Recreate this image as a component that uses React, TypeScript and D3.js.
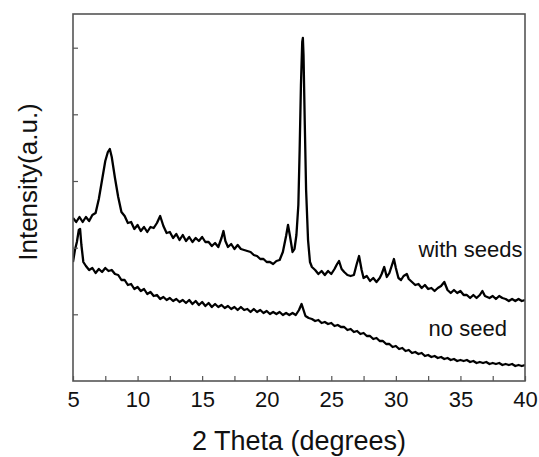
import React, { useEffect, useRef } from 'react';
import * as d3 from 'd3';

// 2 theta (deg), intensity (a.u.)
const withSeeds: [number, number][] = [
  [5.0, 163], [5.25, 159], [5.5, 164], [5.75, 159], [6.0, 164], [6.25, 160], [6.5, 166], [6.75, 168],
  [7.0, 182], [7.25, 201], [7.5, 220], [7.7, 229], [7.85, 232], [8.0, 224], [8.25, 203], [8.5, 184],
  [8.75, 169], [9.0, 165], [9.25, 158], [9.5, 159], [9.75, 152], [10.0, 156], [10.25, 150], [10.5, 154],
  [10.75, 149], [11.0, 154], [11.25, 153], [11.5, 158], [11.75, 165], [12.0, 155], [12.25, 148], [12.5, 149],
  [12.75, 143], [13.0, 147], [13.25, 141], [13.5, 146], [13.75, 140], [14.0, 144], [14.25, 139], [14.5, 143],
  [14.75, 140], [15.0, 144], [15.25, 139], [15.5, 139], [15.75, 135], [16.0, 138], [16.25, 134], [16.5, 143],
  [16.65, 150], [16.8, 140], [17.0, 134], [17.25, 137], [17.5, 132], [17.75, 136], [18.0, 132], [18.25, 131],
  [18.5, 130], [18.75, 129], [19.0, 126], [19.25, 125], [19.5, 122], [19.75, 122], [20.0, 119], [20.25, 119],
  [20.5, 117], [20.75, 120], [21.0, 121], [21.25, 129], [21.5, 145], [21.65, 156], [21.8, 145], [22.0, 129],
  [22.15, 132], [22.3, 146], [22.45, 176], [22.55, 231], [22.65, 296], [22.75, 339], [22.8, 343], [22.85, 326],
  [22.95, 256], [23.05, 191], [23.2, 141], [23.35, 119], [23.5, 114], [23.75, 111], [24.0, 107], [24.25, 110],
  [24.5, 106], [24.75, 110], [25.0, 107], [25.25, 112], [25.45, 117], [25.6, 120], [25.8, 112], [26.0, 109],
  [26.25, 106], [26.5, 105], [26.75, 106], [26.95, 116], [27.15, 125], [27.35, 111], [27.5, 103], [27.75, 105],
  [28.0, 100], [28.25, 103], [28.5, 99], [28.75, 103], [28.9, 107], [29.1, 114], [29.3, 104], [29.5, 108],
  [29.7, 116], [29.85, 122], [30.0, 113], [30.2, 103], [30.4, 101], [30.6, 105], [30.85, 107], [31.0, 102],
  [31.25, 99], [31.5, 96], [31.75, 97], [32.0, 93], [32.25, 96], [32.5, 92], [32.75, 93], [33.0, 90],
  [33.25, 93], [33.5, 95], [33.75, 99], [34.0, 91], [34.25, 88], [34.5, 91], [34.75, 88], [35.0, 90],
  [35.25, 86], [35.5, 86], [35.75, 83], [36.0, 86], [36.25, 83], [36.5, 86], [36.7, 90], [36.9, 85],
  [37.25, 83], [37.5, 85], [37.75, 82], [38.0, 85], [38.25, 83], [38.5, 82], [38.75, 80], [39.0, 82],
  [39.25, 80], [39.5, 82], [39.75, 80], [40.0, 81]
];

const noSeed: [number, number][] = [
  [5.0, 119], [5.15, 131], [5.3, 139], [5.45, 151], [5.55, 152], [5.65, 136], [5.8, 119], [6.0, 115],
  [6.25, 111], [6.5, 113], [6.75, 108], [7.0, 112], [7.25, 109], [7.5, 113], [7.75, 110], [8.0, 111],
  [8.25, 107], [8.5, 106], [8.75, 101], [9.0, 101], [9.25, 96], [9.5, 97], [9.75, 92], [10.0, 94],
  [10.25, 90], [10.5, 92], [10.75, 87], [11.0, 89], [11.25, 85], [11.5, 86], [11.75, 82], [12.0, 84],
  [12.25, 81], [12.5, 83], [12.75, 80], [13.0, 82], [13.25, 79], [13.5, 81], [13.75, 78], [14.0, 81],
  [14.25, 77], [14.5, 80], [14.75, 76], [15.0, 79], [15.25, 75], [15.5, 78], [15.75, 74], [16.0, 77],
  [16.25, 74], [16.5, 76], [16.75, 73], [17.0, 75], [17.25, 72], [17.5, 74], [17.75, 71], [18.0, 74],
  [18.25, 71], [18.5, 72], [18.75, 69], [19.0, 72], [19.25, 69], [19.5, 71], [19.75, 68], [20.0, 70],
  [20.25, 67], [20.5, 69], [20.75, 67], [21.0, 69], [21.25, 66], [21.5, 68], [21.75, 66], [22.0, 68],
  [22.25, 66], [22.5, 71], [22.7, 77], [22.85, 71], [23.0, 65], [23.25, 63], [23.5, 62], [23.75, 60],
  [24.0, 61], [24.25, 58], [24.5, 59], [24.75, 57], [25.0, 58], [25.25, 55], [25.5, 56], [25.75, 54],
  [26.0, 54], [26.25, 51], [26.5, 52], [26.75, 49], [27.0, 50], [27.25, 47], [27.5, 48], [27.75, 45],
  [28.0, 45], [28.25, 42], [28.5, 43], [28.75, 40], [29.0, 40], [29.25, 37], [29.5, 37], [29.75, 34],
  [30.0, 35], [30.25, 32], [30.5, 33], [30.75, 30], [31.0, 31], [31.25, 28], [31.5, 29], [31.75, 27],
  [32.0, 28], [32.25, 25], [32.5, 26], [32.75, 24], [33.0, 25], [33.25, 23], [33.5, 24], [33.75, 22],
  [34.0, 23], [34.25, 21], [34.5, 22], [34.75, 20], [35.0, 21], [35.25, 20], [35.5, 21], [35.75, 19],
  [36.0, 20], [36.25, 18], [36.5, 19], [36.75, 18], [37.0, 19], [37.25, 17], [37.5, 18], [37.75, 17],
  [38.0, 18], [38.25, 16], [38.5, 17], [38.75, 16], [39.0, 17], [39.25, 15], [39.5, 16], [39.75, 15],
  [40.0, 16]
];

const xTickLabels = [5, 10, 15, 20, 25, 30, 35, 40];
const xMinorTicks = [7.5, 12.5, 17.5, 22.5, 27.5, 32.5, 37.5];
const yTicks = [66.7, 133.3, 200, 266.7, 333.3];

const seriesLabels = [
  { text: 'with seeds', x: 39.8, y: 124 },
  { text: 'no seed', x: 38.6, y: 45 }
];

export default function App(): JSX.Element {
  const width = 539;
  const height = 457;
  const margin = { t: 14, r: 14, b: 76, l: 73 };
  const innerW = width - margin.l - margin.r;
  const innerH = height - margin.t - margin.b;

  const axisRef = useRef<SVGGElement>(null);

  const x = d3.scaleLinear().domain([5, 40]).range([0, innerW]);
  const y = d3.scaleLinear().domain([0, 367]).range([innerH, 0]);

  const line = d3
    .line<[number, number]>()
    .x((d) => x(d[0]))
    .y((d) => y(d[1]));

  useEffect(() => {
    document.body.style.margin = '0';
    const g = d3.select(axisRef.current);
    g.selectAll('*').remove();

    // bottom axis: ticks pointing inward
    const bottom = g.append('g').attr('transform', `translate(0,${innerH})`);
    bottom
      .call(
        d3
          .axisBottom(x)
          .tickValues([...xTickLabels, ...xMinorTicks])
          .tickSize(-5)
          .tickPadding(10)
          .tickFormat((d) => (xTickLabels.includes(+d) ? String(d) : ''))
      )
      .call((s) => s.select('.domain').remove());
    bottom
      .selectAll('text')
      .attr('font-family', 'Liberation Sans, Arial, sans-serif')
      .attr('font-size', 22)
      .attr('fill', '#111')
      .attr('dy', '0.71em');
    bottom.selectAll('line').attr('stroke', '#555').attr('stroke-width', 1.2);

    // left axis: no labels
    const left = g.append('g');
    left
      .call(d3.axisLeft(y).tickValues(yTicks).tickSize(-5).tickFormat(() => ''))
      .call((s) => s.select('.domain').remove());
    left.selectAll('line').attr('stroke', '#555').attr('stroke-width', 1.2);
  }, []);

  return (
    <svg width={width} height={height} style={{ display: 'block' }}>
      <rect width={width} height={height} fill="#fff" />
      <g transform={`translate(${margin.l},${margin.t})`}>
        <clipPath id="plot-clip">
          <rect width={innerW} height={innerH} />
        </clipPath>
        <g clipPath="url(#plot-clip)">
          <path d={line(withSeeds) || ''} fill="none" stroke="#000" strokeWidth={2.3} strokeLinejoin="round" />
          <path d={line(noSeed) || ''} fill="none" stroke="#000" strokeWidth={2.3} strokeLinejoin="round" />
        </g>
        <g ref={axisRef} />
        <rect width={innerW} height={innerH} fill="none" stroke="#555" strokeWidth={1.6} />
        {seriesLabels.map((l) => (
          <text
            key={l.text}
            x={x(l.x)}
            y={y(l.y)}
            textAnchor="end"
            fontFamily="Liberation Sans, Arial, sans-serif"
            fontSize={22}
            fill="#111"
          >
            {l.text}
          </text>
        ))}
      </g>
      <text
        x={margin.l + innerW / 2}
        y={450}
        textAnchor="middle"
        fontFamily="Liberation Sans, Arial, sans-serif"
        fontSize={27}
        fill="#111"
      >
        2 Theta (degrees)
      </text>
      <text
        transform="translate(37,182) rotate(-90)"
        textAnchor="middle"
        fontFamily="Liberation Sans, Arial, sans-serif"
        fontSize={26}
        fill="#111"
      >
        Intensity(a.u.)
      </text>
    </svg>
  );
}
